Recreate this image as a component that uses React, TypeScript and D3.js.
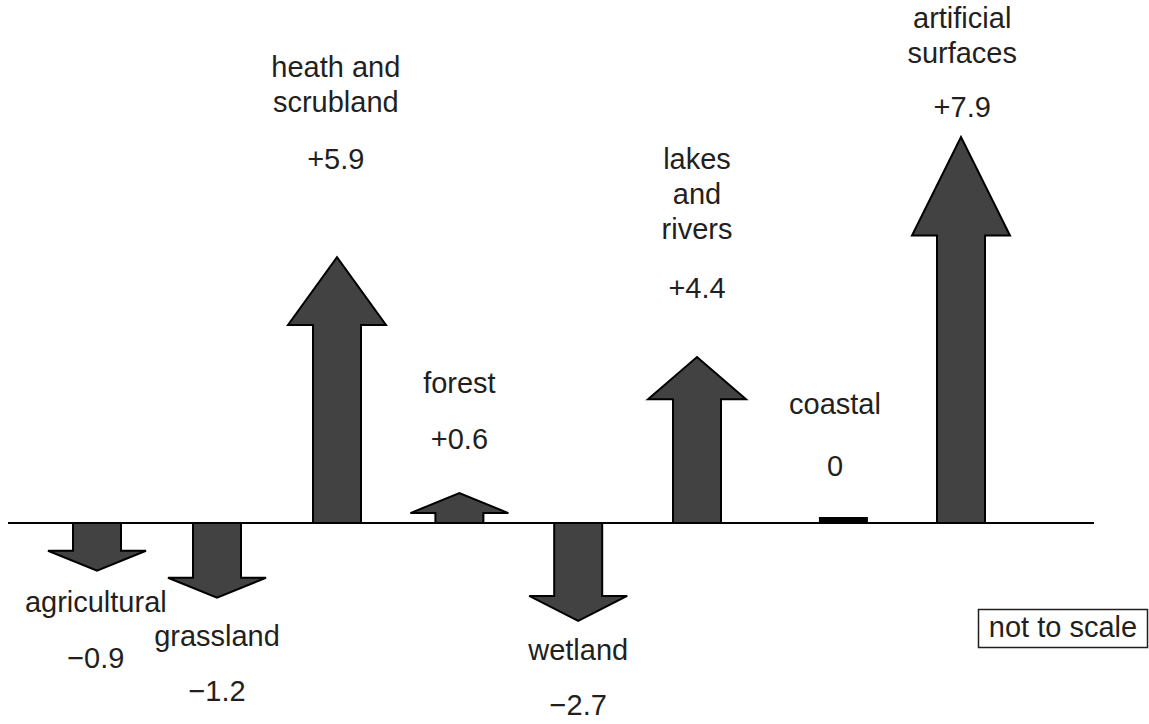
import React from "react";
import * as d3 from "d3";

// Categories and their reported change values (labels)
const categories = [
  ["agricultural"],
  ["grassland"],
  ["heath and", "scrubland"],
  ["forest"],
  ["wetland"],
  ["lakes", "and", "rivers"],
  ["coastal"],
  ["artificial", "surfaces"],
];
const valueLabels = ["\u22120.9", "\u22121.2", "+5.9", "+0.6", "\u22122.7", "+4.4", "0", "+7.9"];
const values = [-0.9, -1.2, 5.9, 0.6, -2.7, 4.4, 0, 7.9];

// Drawn arrow sizes (chart is "not to scale"), in display units
const arrowSize = [-0.99, -1.55, 5.51, 0.62, -2.03, 3.44, 0, 8.0];
// Horizontal slots for each category
const slots = [0, 1, 2, 3.02, 4.01, 5, 6.22, 7.2];
const labelSlots = [-0.01, 1, 1.99, 3.02, 4.01, 5, 6.15, 7.21];
// Label baselines in display units (first name line, value line)
const nameLevel = [-1.845, -2.549, 9.244, 2.694, -2.839, 7.337, 2.259, 10.259];
const valueLevel = [-3.005, -3.689, 7.337, 1.534, -3.979, 4.663, 0.974, 8.415];

const W = 1149;
const H = 724;
const FONT = "'Liberation Sans', Arial, Helvetica, sans-serif";

export default function App() {
  const x = d3.scaleLinear().domain([0, 1]).range([97, 217]);
  const y = d3.scaleLinear().domain([0, 1]).range([523, 523 - 48.25]);
  const y0 = y(0);
  const shaftHalf = 24;
  const headHalf = 49;
  const lineGap = 35;

  const arrowPath = (cx: number, size: number) => {
    const tip = y(size);
    const len = tip - y0;
    const dir = Math.sign(len);
    const h = Math.max(Math.abs(len) * 0.255, 20) * dir;
    const yh = tip - h;
    const p = d3.path();
    p.moveTo(cx - shaftHalf, y0);
    p.lineTo(cx - shaftHalf, yh);
    p.lineTo(cx - headHalf, yh);
    p.lineTo(cx, tip);
    p.lineTo(cx + headHalf, yh);
    p.lineTo(cx + shaftHalf, yh);
    p.lineTo(cx + shaftHalf, y0);
    return p.toString();
  };

  return (
    <svg
      width={W}
      height={H}
      style={{ position: "absolute", left: 0, top: 0, background: "#fff" }}
      fontFamily={FONT}
    >
      {categories.map((name, i) => {
        const cx = x(slots[i]);
        return values[i] === 0 ? (
          <rect key={"a" + i} x={cx - 24.5} y={y0 - 6} width={49} height={6} fill="#000" />
        ) : (
          <path
            key={"a" + i}
            d={arrowPath(cx, arrowSize[i])}
            fill="#424242"
            stroke="#000"
            strokeWidth={2}
            strokeLinejoin="miter"
          />
        );
      })}
      <line x1={8} x2={1094} y1={y0} y2={y0} stroke="#000" strokeWidth={2} />
      {categories.map((name, i) => {
        const lx = x(labelSlots[i]);
        return (
          <g key={"l" + i} fill="#231f20" fontSize={29} textAnchor="middle">
            {name.map((line, j) => (
              <text key={j} x={lx} y={y(nameLevel[i]) + j * lineGap}>
                {line}
              </text>
            ))}
            <text x={lx} y={y(valueLevel[i])}>
              {valueLabels[i]}
            </text>
          </g>
        );
      })}
      <rect x={978.5} y={609.5} width={169} height={38} fill="none" stroke="#231f20" strokeWidth={1.5} />
      <text x={1063} y={637} fontSize={29} textAnchor="middle" fill="#231f20">
        not to scale
      </text>
    </svg>
  );
}
